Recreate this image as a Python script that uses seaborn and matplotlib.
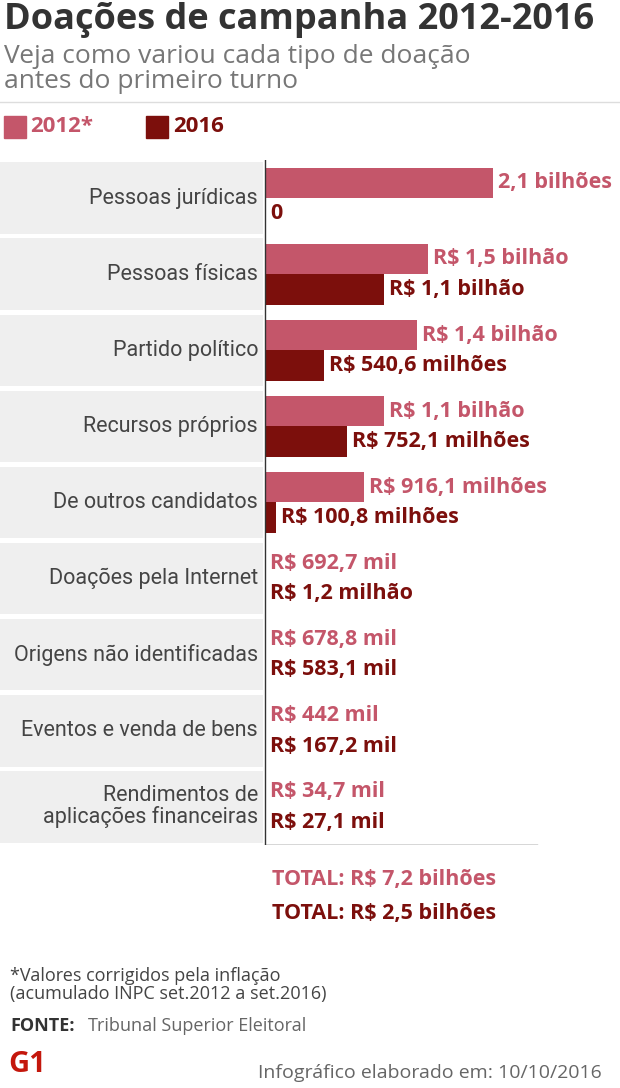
import pandas as pd
import seaborn as sns
import matplotlib.pyplot as plt

# %% data (values in R$ billions)
categories = [
    "Pessoas jurídicas", "Pessoas físicas", "Partido político", "Recursos próprios",
    "De outros candidatos", "Doações pela Internet", "Origens não identificadas",
    "Eventos e venda de bens", "Rendimentos de\naplicações financeiras",
]
v2012 = [2.1, 1.5, 1.4, 1.1, 0.9161, 0.0006927, 0.0006788, 0.000442, 0.0000347]
v2016 = [0.0, 1.1, 0.5406, 0.7521, 0.1008, 0.0012, 0.0005831, 0.0001672, 0.0000271]
lab2012 = ["2,1 bilhões", "R$ 1,5 bilhão", "R$ 1,4 bilhão", "R$ 1,1 bilhão",
           "R$ 916,1 milhões", "R$ 692,7 mil", "R$ 678,8 mil", "R$ 442 mil", "R$ 34,7 mil"]
lab2016 = ["0", "R$ 1,1 bilhão", "R$ 540,6 milhões", "R$ 752,1 milhões",
           "R$ 100,8 milhões", "R$ 1,2 milhão", "R$ 583,1 mil", "R$ 167,2 mil", "R$ 27,1 mil"]

PINK = "#c4566a"
DARK = "#7c0f0c"

df = pd.DataFrame({
    "cat": categories * 2,
    "valor": v2012 + v2016,
    "ano": ["2012"] * 9 + ["2016"] * 9,
})

W, H = 620, 1088
fig = plt.figure(figsize=(W / 100, H / 100), dpi=100)
plt.rcParams["font.family"] = "Open Sans"

# axes spanning full width, rows from y=160 to 845 px
ax = fig.add_axes([0, 1 - 845 / H, 1, (845 - 160) / H])
ppb = 108.6  # px per billion
ax.set_xlim(-265 / ppb, (W - 265) / ppb)
for i in range(9):
    ax.axhspan(i - 0.47, i + 0.47, xmin=0, xmax=263 / W, color="#efefef", lw=0, zorder=0)
sns.barplot(data=df, y="cat", x="valor", hue="ano", orient="h", dodge=True,
            palette={"2012": PINK, "2016": DARK}, width=0.8, saturation=1,
            legend=False, ax=ax)
ax.set_ylim(8.5, -0.5)
ax.axis("off")
ax.plot([0, 0], [-0.5, 8.5], color="#333333", lw=1)
ax.plot([0, (537 - 265) / ppb], [8.5, 8.5], color="#333333", lw=1)

off = 5 / ppb
for i in range(9):
    ax.text(-7 / ppb, i, categories[i], ha="right", va="center", fontsize=15.5,
            color="#444444", linespacing=1.0, family="Roboto")
    ax.text(v2012[i] + off, i - 0.2, lab2012[i], ha="left", va="center",
            fontsize=15.5, fontweight="bold", color=PINK)
    ax.text(v2016[i] + off, i + 0.2, lab2016[i], ha="left", va="center",
            fontsize=15.5, fontweight="bold", color=DARK)

def T(x, y, s, **kw):
    fig.text(x / W, 1 - y / H, s, **kw)

T(4, 20, "Doações de campanha 2012-2016", fontsize=26, fontweight="bold",
  color="#333333", va="center")
T(4, 69, "Veja como variou cada tipo de doação\nantes do primeiro turno", fontsize=19,
  color="#777777", va="center", linespacing=1.0)
fig.add_artist(plt.Line2D([0, 1], [1 - 102 / H] * 2, color="#dddddd", lw=1))
fig.add_artist(plt.Rectangle((4 / W, 1 - 138 / H), 22 / W, 22 / H, color=PINK))
T(30, 127, "2012*", fontsize=16, fontweight="bold", color=PINK, va="center")
fig.add_artist(plt.Rectangle((146 / W, 1 - 138 / H), 22 / W, 22 / H, color=DARK))
T(173, 127, "2016", fontsize=16, fontweight="bold", color=DARK, va="center")

T(272, 880, "TOTAL: R$ 7,2 bilhões", fontsize=15.5, fontweight="bold", color=PINK, va="center")
T(272, 913, "TOTAL: R$ 2,5 bilhões", fontsize=15.5, fontweight="bold", color=DARK, va="center")
T(10, 985, "*Valores corrigidos pela inflação\n(acumulado INPC set.2012 a set.2016)",
  fontsize=13, color="#444444", va="center", linespacing=1.05)
T(10, 1026, "FONTE:", fontsize=13, fontweight="bold", color="#333333", va="center")
T(88, 1026, "Tribunal Superior Eleitoral", fontsize=13, color="#666666", va="center")
T(8, 1065, "G1", fontsize=21, fontweight="bold", color="#c4170c", va="center")
T(258, 1073, "Infográfico elaborado em: 10/10/2016", fontsize=14, color="#666666", va="center")

fig.savefig("out.png", dpi=100)
